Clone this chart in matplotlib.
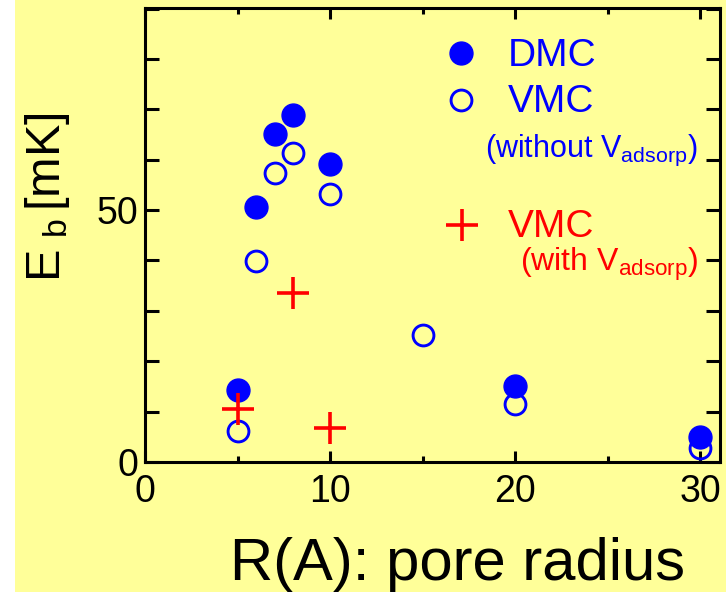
# Binding energy vs pore radius: DMC / VMC points on a yellow slide background

import numpy as np
from matplotlib import pyplot as plt
from matplotlib.patches import Rectangle
from matplotlib.ticker import MultipleLocator, FixedLocator

plt.rcParams['font.family'] = ['Liberation Sans', 'DejaVu Sans']
plt.rcParams['mathtext.fontset'] = 'custom'
plt.rcParams['mathtext.rm'] = 'Liberation Sans'
plt.rcParams['mathtext.it'] = 'Liberation Sans:italic'

# DMC (filled), VMC without adsorption potential (open), VMC with it (plus)
R_dmc = [5, 6, 7, 8, 10, 20, 30]
E_dmc = [14.3, 50.7, 65.0, 68.8, 59.2, 15.1, 4.9]
R_vmc = [5, 6, 7, 8, 10, 15, 20, 30]
E_vmc = [6.2, 39.8, 57.3, 61.3, 53.2, 25.2, 11.6, 2.8]
R_ads = [5, 8, 10]
E_ads = [10.5, 33.5, 6.7]

x_ticks = [0, 10, 20, 30]
y_ticks = [0, 50]

yellow = '#FFFF99'
blue = '#0000FF'
red = '#FF0000'

fig = plt.figure(figsize=(7.26, 5.92), dpi=100)
fig.patches.append(Rectangle((15/726, 0), 1 - 15/726, 1, transform=fig.transFigure,
                             facecolor=yellow, edgecolor='none', zorder=-10))
ax = fig.add_axes([145/726, 130/592, 575/726, 454/592])
ax.set_facecolor(yellow)

ax.plot(R_dmc, E_dmc, 'o', ms=16.5, color=blue, mec=blue, clip_on=False, zorder=3)
ax.plot(R_vmc, E_vmc, 'o', ms=15, mfc='none', mec=blue, mew=2.1, clip_on=False, zorder=3)
ax.plot(R_ads, E_ads, '+', ms=23, mec=red, mew=2.6, clip_on=False, zorder=4)

ax.set_xlim(0, 31.08)
ax.set_ylim(0, 90.1)
ax.xaxis.set_major_locator(FixedLocator(x_ticks))
ax.xaxis.set_minor_locator(MultipleLocator(5))
ax.yaxis.set_major_locator(FixedLocator(y_ticks))
ax.yaxis.set_minor_locator(MultipleLocator(10))

for s in ax.spines.values():
    s.set_linewidth(2.2)
ax.tick_params(which='both', direction='in', top=True, right=True, width=2.2)
ax.tick_params(axis='x', which='major', length=8, pad=9, labelsize=27)
ax.tick_params(axis='x', which='minor', length=4.3)
ax.tick_params(axis='y', which='both', length=10, pad=5, labelsize=27)

# legend drawn by hand
ax.plot([0.5496], [0.9009], 'o', ms=16.5, color=blue, transform=ax.transAxes, clip_on=False)
ax.plot([0.5496], [0.7974], 'o', ms=15, mfc='none', mec=blue, mew=2.1,
        transform=ax.transAxes, clip_on=False)
ax.plot([0.5513], [0.5220], '+', ms=23, mec=red, mew=2.6, transform=ax.transAxes, clip_on=False)
ax.text(0.6313, 0.8722, 'DMC', color=blue, fontsize=28, transform=ax.transAxes, va='baseline')
ax.text(0.6313, 0.7709, 'VMC', color=blue, fontsize=28, transform=ax.transAxes, va='baseline')
ax.text(0.5913, 0.6718, r'(without V$_{\rm adsorp}$)', color=blue, fontsize=22,
        transform=ax.transAxes, va='baseline')
ax.text(0.6313, 0.4956, 'VMC', color=red, fontsize=28, transform=ax.transAxes, va='baseline')
ax.text(0.6522, 0.4207, r'(with V$_{\rm adsorp}$)', color=red, fontsize=23,
        transform=ax.transAxes, va='baseline')

fig.text(457/726, 12/592, 'R(A): pore radius', fontsize=43, ha='center', va='baseline')
fig.text(48/726, 1 - 197/592, r'E$\;_{\rm b}\,$[mK]', fontsize=35, rotation=90,
         ha='center', va='center')

plt.savefig('out.png', dpi=100)
